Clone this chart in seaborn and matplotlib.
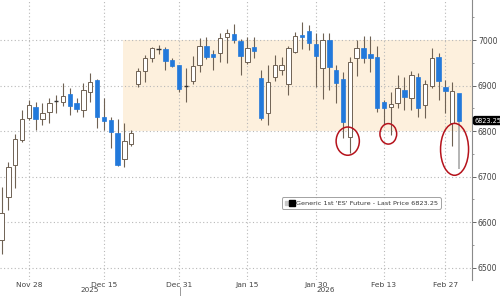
import numpy as np
import pandas as pd
import matplotlib
matplotlib.use("Agg")
import matplotlib.pyplot as plt
import seaborn as sns
from matplotlib.patches import Rectangle, Ellipse
from matplotlib.lines import Line2D
from matplotlib.legend_handler import HandlerTuple
import matplotlib.transforms as mtrans

# ---------------- data ----------------
holidays = ["2025-11-27", "2025-12-25", "2026-01-01", "2026-01-19", "2026-02-16"]
dates = [d for d in pd.bdate_range("2025-11-21", "2026-03-03") if d.strftime("%Y-%m-%d") not in holidays]

opens = [6560, 6655, 6725, 6780, 6828, 6853, 6827, 6842, 6866, 6865,
         6881, 6862, 6846, 6886, 6912, 6830, 6824, 6795, 6738, 6771,
         6903, 6931, 6960, 6980, 6980, 6956, 6945, 6900, 6910, 6945,
         6987, 6969, 6972, 7006, 7013, 6998, 6952, 6985, 6916, 6839,
         6919, 6935, 6903, 6974, 7011, 7020, 6991, 6938, 7001, 6934,
         6914, 6786, 6960, 6982, 6970, 6963, 6864, 6852, 6861, 6890,
         6872, 6918, 6857, 6899, 6963, 6897, 6818, 6884]
highs = [6677, 6732, 6793, 6846, 6868, 6864, 6861, 6872, 6879, 6905,
         6894, 6872, 6905, 6928, 6915, 6872, 6831, 6826, 6817, 6802,
         6938, 6967, 6985, 6989, 6984, 6960, 6946, 6938, 6965, 7005,
         7007, 6978, 7015, 7024, 7035, 7002, 7006, 7006, 6934, 6945,
         6968, 6963, 6986, 7018, 7040, 7033, 7016, 7015, 7015, 6945,
         6930, 6962, 7000, 7008, 7010, 6988, 6868, 6886, 6923, 6918,
         6932, 6927, 6912, 6982, 6972, 6912, 6908, 6886]
lows = [6530, 6626, 6674, 6776, 6824, 6802, 6813, 6818, 6839, 6855,
        6835, 6842, 6831, 6864, 6806, 6802, 6762, 6723, 6721, 6767,
        6897, 6908, 6952, 6970, 6935, 6941, 6886, 6864, 6903, 6930,
        6958, 6934, 6952, 6949, 6993, 6923, 6947, 6960, 6824, 6813,
        6910, 6923, 6879, 6971, 6980, 6978, 6897, 6870, 6890, 6862,
        6785, 6752, 6922, 6950, 6930, 6843, 6815, 6791, 6850, 6847,
        6847, 6832, 6828, 6894, 6868, 6840, 6768, 6716]
closes = [6620, 6721, 6782, 6827, 6858, 6826, 6839, 6861, 6866, 6877,
          6855, 6848, 6890, 6907, 6830, 6822, 6798, 6725, 6778, 6795,
          6933, 6960, 6982, 6980, 6955, 6944, 6892, 6900, 6943, 6987,
          6963, 6962, 7004, 7015, 7000, 6965, 6982, 6976, 6828, 6908,
          6945, 6945, 6982, 7009, 7007, 6993, 6965, 7001, 6941, 6905,
          6820, 6952, 6982, 6960, 6960, 6850, 6850, 6859, 6894, 6875,
          6923, 6850, 6903, 6960, 6910, 6888, 6888, 6823.25]

tick_dates = ["2025-11-28", "2025-12-15", "2025-12-31", "2026-01-15", "2026-01-30", "2026-02-13", "2026-02-27"]
tick_labels = ["Nov 28", "Dec 15", "Dec 31", "Jan 15", "Jan 30", "Feb 13", "Feb 27"]
minor_dates = ["2025-11-21", "2025-12-08", "2025-12-23", "2026-01-08", "2026-01-23", "2026-02-06", "2026-02-20"]
y_ticks = [6500, 6600, 6700, 6800, 6900, 7000]
last_price = 6823.25
legend_label = "Generic 1st 'ES' Future - Last Price 6823.25"
band_low, band_high = 6800, 7000

df = pd.DataFrame({"date": dates, "open": opens, "high": highs, "low": lows, "close": closes})
df["idx"] = np.arange(len(df))
date_str = df["date"].dt.strftime("%Y-%m-%d").tolist()

# ---------------- style ----------------
sns.set_theme(style="white")
plt.rcParams["font.family"] = ["DejaVu Sans"]

BLUE = "#2279DB"
EDGE = "#6F6254"
DOJI = "#333333"
RED = "#B5121B"
BAND = "#FDF0DD"
GRID = "#B8B8B8"
TXT = "#444444"

fig = plt.figure(figsize=(5, 2.96), dpi=100)
fig.patch.set_facecolor("white")
ax = fig.add_axes([0, 16 / 296, 471.7 / 500, 280 / 296])
ax.set_facecolor("white")
ax.set_xlim(-0.22, 68.84)
ax.set_ylim(6473, 7088)

# band
ax.add_patch(Rectangle((17.85, band_low), 68.84 - 17.85, band_high - band_low,
                       facecolor=BAND, edgecolor="none", zorder=0.1))

# grid
ax.set_axisbelow(True)
tick_pos = [date_str.index(d) for d in tick_dates]
minor_pos = [date_str.index(d) for d in minor_dates]
ax.set_xticks(tick_pos)
ax.set_xticklabels(tick_labels)
ax.set_xticks(minor_pos, minor=True)
ax.set_yticks(y_ticks)
ax.set_yticks([v + 50 for v in y_ticks], minor=True)
ax.grid(True, which="major", color=GRID, linestyle=(0, (1, 2.2)), linewidth=0.8)

# candles
up = df[df["close"] > df["open"]]
down = df[df["close"] < df["open"]]
doji = df[df["close"] == df["open"]]
last = df.iloc[[-1]]
rest = df.iloc[:-1]
ax.vlines(rest["idx"], rest["low"], rest["high"], color=EDGE, linewidth=0.8, zorder=2)
ax.vlines(last["idx"], last["low"], last[["open", "close"]].min(axis=1), color="#A8A8A8", linewidth=1.2, zorder=2)
w = 0.64
ax.bar(up["idx"], up["close"] - up["open"], bottom=up["open"], width=w,
       facecolor="white", edgecolor=EDGE, linewidth=0.7, zorder=3)
ax.bar(down["idx"], down["open"] - down["close"], bottom=down["close"], width=w,
       facecolor=BLUE, edgecolor=BLUE, linewidth=0.5, zorder=3)
ax.hlines(doji["open"], doji["idx"] - w / 2, doji["idx"] + w / 2, color=DOJI, linewidth=1.0, zorder=3)

# red ellipses
for (cx, cy, ew, eh) in [(50.69, 6778, 3.4, 62), (56.63, 6794, 2.45, 45), (66.33, 6760, 4.1, 114)]:
    ax.add_patch(Ellipse((cx, cy), ew, eh, facecolor="none", edgecolor=RED, linewidth=1.1, zorder=5))

# axes styling
for s in ["left", "top", "bottom"]:
    ax.spines[s].set_visible(False)
ax.spines["right"].set_visible(True)
ax.spines["right"].set_color("#8A8A8A")
ax.spines["right"].set_linewidth(0.8)
ax.yaxis.tick_right()
ax.tick_params(axis="y", which="major", length=3, width=0.7, color="#666666", labelsize=5.6,
               labelcolor=TXT, pad=1.5)
ax.tick_params(axis="y", which="minor", length=1.5, width=0.6, color="#888888")
ax.tick_params(axis="x", which="major", length=0, labelsize=5.4, labelcolor=TXT, pad=1.5)
ax.tick_params(axis="x", which="minor", length=2, width=0.6, color="#777777", direction="inout")

# year labels and separator
trans = mtrans.blended_transform_factory(ax.transData, ax.transAxes)
sep = date_str.index("2025-12-31") + 0.2
ax.plot([sep, sep], [-0.025, -0.07], transform=trans, color="#999999", linewidth=0.7, clip_on=False)
ax.text((ax.get_xlim()[0] + sep) / 2, -0.026, "2025", transform=trans, ha="center", va="top",
        fontsize=5.2, color=TXT, clip_on=False)
ax.text((sep + ax.get_xlim()[1]) / 2, -0.026, "2026", transform=trans, ha="center", va="top",
        fontsize=5.2, color=TXT, clip_on=False)

# last price label
transy = mtrans.blended_transform_factory(ax.transAxes, ax.transData)
ax.text(1.006, last_price, f"{last_price:.2f}", transform=transy, ha="left", va="center",
        fontsize=4.7, color="white", clip_on=False, zorder=10,
        bbox=dict(boxstyle="round,pad=0.15,rounding_size=0.25", facecolor="black", edgecolor="black"))

# legend
h_small = Line2D([], [], marker="s", linestyle="none", markersize=2.8, markerfacecolor="#C8C8C8", markeredgecolor="#C8C8C8")
h_big = Line2D([], [], marker="s", linestyle="none", markersize=4.2, markerfacecolor="black", markeredgecolor="black")
leg = ax.legend([(h_small, h_big)], [legend_label], handler_map={tuple: HandlerTuple(ndivide=None, pad=0.15)},
                loc="center", bbox_to_anchor=(0.766, 0.275), fontsize=4.65, frameon=True, fancybox=True,
                handlelength=1.4, handletextpad=0.3, borderpad=0.45, labelcolor="#333333")
leg.get_frame().set_edgecolor("#8A8A8A")
leg.get_frame().set_linewidth(0.7)
leg.get_frame().set_facecolor("white")
leg.set_zorder(6)

fig.savefig("out.png", dpi=100, facecolor="white")
